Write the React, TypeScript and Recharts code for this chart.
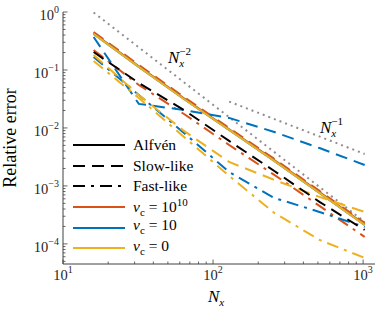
import React from 'react';
import { LineChart, Line, XAxis, YAxis, Legend } from 'recharts';

const Nx = [16, 32, 64, 128, 256, 512, 1024];

// Alfvén (solid)
const alfvenHi = [0.43, 0.116, 0.0325, 0.0095, 0.00278, 0.00078, 0.000218];
const alfvenMid = [0.42, 0.113, 0.0316, 0.00924, 0.0027, 0.000757, 0.000213];
const alfvenZero = [0.42, 0.113, 0.0316, 0.00924, 0.0027, 0.000757, 0.000213];
// Slow-like (dashed)
const slowHi = [0.452, 0.122, 0.0342, 0.01, 0.00292, 0.00082, 0.00023];
const slowMid = [0.371, 0.026, 0.0204, 0.0149, 0.0085, 0.0045, 0.0023];
const slowZero = [0.1815, 0.0371, 0.00888, 0.00259, 0.00127, 0.000646, 0.000356];
const slowRef = [0.204, 0.0597, 0.0204, 0.00597, 0.00181, 0.00053, 0.000174];
// Fast-like (dash-dot)
const fastHi = [0.221, 0.0551, 0.0174, 0.00509, 0.00155, 0.000452, 0.000132];
const fastMid = [0.168, 0.0371, 0.0082, 0.00174, 0.00062, 0.000356, 0.000196];
const fastZero = [0.143, 0.0329, 0.007, 0.00149, 0.000342, 0.000117, 0.0000574];
// reference slopes
const refN2 = [0.98, null, null, null, null, null, 0.00024];
const refN1 = [null, null, null, 0.0285, null, null, 0.00356];

const xTicks = [10, 20, 30, 40, 50, 60, 70, 80, 90, 100, 200, 300, 400, 500, 600, 700, 800, 900, 1000];
const yTicks = [
  5e-5, 6e-5, 7e-5, 8e-5, 9e-5,
  1e-4, 2e-4, 3e-4, 4e-4, 5e-4, 6e-4, 7e-4, 8e-4, 9e-4,
  1e-3, 2e-3, 3e-3, 4e-3, 5e-3, 6e-3, 7e-3, 8e-3, 9e-3,
  1e-2, 2e-2, 3e-2, 4e-2, 5e-2, 6e-2, 7e-2, 8e-2, 9e-2,
  1e-1, 2e-1, 3e-1, 4e-1, 5e-1, 6e-1, 7e-1, 8e-1, 9e-1, 1,
];

const data = Nx.map((n, i) => ({
  N: n,
  aH: alfvenHi[i], aM: alfvenMid[i], aZ: alfvenZero[i],
  sH: slowHi[i], sM: slowMid[i], sZ: slowZero[i], sR: slowRef[i],
  fH: fastHi[i], fM: fastMid[i], fZ: fastZero[i],
  r2: refN2[i], r1: refN1[i],
}));

const ORANGE = '#D95319';
const BLUE = '#0072BD';
const YELLOW = '#EDB120';
const GRAY = '#8f8f8f';
const AXIS = '#404040';
const FONT = 'Liberation Serif, DejaVu Serif, serif';
const DASH = '12 7';
const DASHDOT = '12 6 3 6';

const isMajor = (v: number) => {
  const lg = Math.log10(v);
  return Math.abs(lg - Math.round(lg)) < 1e-6;
};
const expOf = (v: number) => {
  const e = Math.round(Math.log10(v));
  return e < 0 ? '\u2212' + Math.abs(e) : String(e);
};

const XTickBottom = (props: any) => {
  const { x, y, payload } = props;
  const v = payload.value;
  const major = isMajor(v);
  return (
    <g>
      <line x1={x} x2={x} y1={y} y2={y - (major ? 4.5 : 2.5)} stroke={AXIS} strokeWidth={0.8} />
      {major && (
        <text x={x} y={y + 16} textAnchor="middle" style={{ fontFamily: FONT }} fontSize={14.5} fill="#262626">
          10<tspan dy={-7} fontSize={10}>{expOf(v)}</tspan>
        </text>
      )}
    </g>
  );
};
const XTickTop = (props: any) => {
  const { x, y, payload } = props;
  const major = isMajor(payload.value);
  return <line x1={x} x2={x} y1={y} y2={y + (major ? 4.5 : 2.5)} stroke={AXIS} strokeWidth={0.8} />;
};
const YTickLeft = (props: any) => {
  const { x, y, payload } = props;
  const v = payload.value;
  const major = isMajor(v);
  return (
    <g>
      <line x1={x} x2={x + (major ? 4.5 : 2.5)} y1={y} y2={y} stroke={AXIS} strokeWidth={0.8} />
      {major && (
        <text x={x - 4} y={y + 8} textAnchor="end" style={{ fontFamily: FONT }} fontSize={14.5} fill="#262626">
          10<tspan dy={-7} fontSize={10}>{expOf(v)}</tspan>
        </text>
      )}
    </g>
  );
};
const YTickRight = (props: any) => {
  const { x, y, payload } = props;
  const major = isMajor(payload.value);
  return <line x1={x} x2={x - (major ? 4.5 : 2.5)} y1={y} y2={y} stroke={AXIS} strokeWidth={0.8} />;
};

const legendRows = [
  { key: 'Alfvén', color: '#000', dash: undefined as string | undefined, label: <span>Alfvén</span> },
  { key: 'Slow', color: '#000', dash: DASH, label: <span>Slow-like</span> },
  { key: 'Fast', color: '#000', dash: DASHDOT, label: <span>Fast-like</span> },
  { key: 'hi', color: ORANGE, dash: undefined, label: <span><i>ν</i><sub style={{ fontSize: 11 }}>c</sub> = 10<sup style={{ fontSize: 11 }}>10</sup></span> },
  { key: 'mid', color: BLUE, dash: undefined, label: <span><i>ν</i><sub style={{ fontSize: 11 }}>c</sub> = 10</span> },
  { key: 'zero', color: YELLOW, dash: undefined, label: <span><i>ν</i><sub style={{ fontSize: 11 }}>c</sub> = 0</span> },
];

const LegendContent = () => (
  <div style={{ fontFamily: FONT, fontSize: 15.5, color: '#000' }}>
    {legendRows.map((r) => (
      <div key={r.key} style={{ display: 'flex', alignItems: 'center', height: 20.6, lineHeight: '16px' }}>
        <svg width={52} height={8} style={{ marginRight: 8, flex: 'none' }}>
          <line x1={0} x2={52} y1={4} y2={4} stroke={r.color} strokeWidth={2} strokeDasharray={r.dash} />
        </svg>
        {r.label}
      </div>
    ))}
  </div>
);

export default function App() {
  return (
    <div style={{ position: 'absolute', left: 0, top: 0, width: 382, height: 315, background: '#fff', fontFamily: FONT }}>
      <LineChart width={382} height={315} data={data} margin={{ top: 12, right: 7, bottom: 0, left: 0 }}>
        <XAxis
          dataKey="N" type="number" scale="log" domain={[10, 1200]} ticks={xTicks}
          allowDataOverflow height={51} tickSize={0} tickMargin={0} interval={0}
          axisLine={{ stroke: AXIS, strokeWidth: 1 }} tick={<XTickBottom />}
        />
        <XAxis
          xAxisId="top" orientation="top" dataKey="N" type="number" scale="log" domain={[10, 1200]} ticks={xTicks}
          allowDataOverflow height={0} tickSize={0} tickMargin={0} interval={0}
          axisLine={{ stroke: AXIS, strokeWidth: 1 }} tick={<XTickTop />}
        />
        <YAxis
          type="number" scale="log" domain={[4.5e-5, 1]} ticks={yTicks} allowDataOverflow
          width={63} tickSize={0} tickMargin={0} interval={0}
          axisLine={{ stroke: AXIS, strokeWidth: 1 }} tick={<YTickLeft />}
        />
        <YAxis
          yAxisId="right" orientation="right" type="number" scale="log" domain={[4.5e-5, 1]} ticks={yTicks} allowDataOverflow
          width={0} tickSize={0} tickMargin={0} interval={0}
          axisLine={{ stroke: AXIS, strokeWidth: 1 }} tick={<YTickRight />}
        />
        <Line dataKey="r2" stroke={GRAY} strokeWidth={2} strokeDasharray="2 4" dot={false} connectNulls isAnimationActive={false} />
        <Line dataKey="r1" stroke={GRAY} strokeWidth={2} strokeDasharray="2 4" dot={false} connectNulls isAnimationActive={false} />
        <Line dataKey="aH" stroke={ORANGE} strokeWidth={2} dot={false} isAnimationActive={false} />
        <Line dataKey="sH" stroke={ORANGE} strokeWidth={2} strokeDasharray={DASH} dot={false} isAnimationActive={false} />
        <Line dataKey="fH" stroke={ORANGE} strokeWidth={2} strokeDasharray={DASHDOT} dot={false} isAnimationActive={false} />
        <Line dataKey="aM" stroke={BLUE} strokeWidth={2} dot={false} isAnimationActive={false} />
        <Line dataKey="sM" stroke={BLUE} strokeWidth={2} strokeDasharray={DASH} dot={false} isAnimationActive={false} />
        <Line dataKey="fM" stroke={BLUE} strokeWidth={2} strokeDasharray={DASHDOT} dot={false} isAnimationActive={false} />
        <Line dataKey="aZ" stroke={YELLOW} strokeWidth={2} dot={false} isAnimationActive={false} />
        <Line dataKey="sZ" stroke={YELLOW} strokeWidth={2} strokeDasharray={DASH} dot={false} isAnimationActive={false} />
        <Line dataKey="fZ" stroke={YELLOW} strokeWidth={2} strokeDasharray={DASHDOT} dot={false} isAnimationActive={false} />
        <Line dataKey="sR" stroke="#000" strokeWidth={2} strokeDasharray={DASH} dot={false} isAnimationActive={false} />
        <Legend
          layout="vertical" align="center" verticalAlign="middle"
          wrapperStyle={{ left: 73, top: 135, width: 170, height: 124 }}
          content={<LegendContent />}
        />
      </LineChart>
      <svg width={382} height={315} style={{ position: 'absolute', left: 0, top: 0, pointerEvents: 'none', fontFamily: FONT }}>
        <text x={168} y={63} fontSize={17} fill="#000">
          <tspan fontStyle="italic">N</tspan>
          <tspan fontStyle="italic" fontSize={11} dy={4}>x</tspan>
          <tspan fontSize={11} dx={-5} dy={-12}>{'\u2212'}2</tspan>
        </text>
        <text x={320} y={133} fontSize={17} fill="#000">
          <tspan fontStyle="italic">N</tspan>
          <tspan fontStyle="italic" fontSize={11} dy={4}>x</tspan>
          <tspan fontSize={11} dx={-5} dy={-12}>{'\u2212'}1</tspan>
        </text>
        <text x={208} y={302} fontSize={17} fill="#000">
          <tspan fontStyle="italic">N</tspan>
          <tspan fontStyle="italic" fontSize={11} dy={4}>x</tspan>
        </text>
        <text
          x={16} y={138} fontSize={18} fill="#000" textAnchor="middle"
          transform="rotate(-90 16 138)"
        >
          Relative error
        </text>
      </svg>
    </div>
  );
}
